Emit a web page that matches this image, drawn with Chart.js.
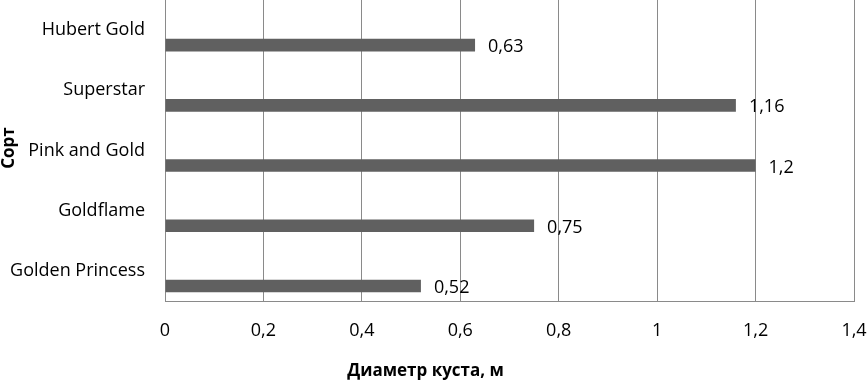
<!DOCTYPE html>
<html>
<head>
<meta charset="utf-8">
<script src="https://cdn.jsdelivr.net/npm/chart.js@4/dist/chart.umd.min.js"></script>
<style>
  body { margin: 0; background: #fff; }
  #wrap { width: 867px; height: 382px; position: relative; }
</style>
</head>
<body>
<div id="wrap"><canvas id="chart_sorts"></canvas></div>
<script>
const sorts = ["Hubert Gold", "Superstar", "Pink and Gold", "Goldflame", "Golden Princess"]
const diameters = [0.63, 1.16, 1.2, 0.75, 0.52]
const emptySeries = [null, null, null, null, null]
const xTicks = [0, 0.2, 0.4, 0.6, 0.8, 1, 1.2, 1.4]

const xTitle = "Диаметр куста, м"
const yTitle = "Сорт"

const fontName = "'Open Sans', sans-serif"
const gridColor = "#8a8a8a"
const barColor = "#606060"

const commaNum = v => String(v).replace(".", ",")

// value labels to the right of every bar + axis titles
const labelsPlugin = {
  id: "labelsPlugin",
  afterDatasetsDraw(chart) {
    const ctx = chart.ctx
    const meta = chart.getDatasetMeta(1)
    ctx.save()
    ctx.fillStyle = "#000"
    ctx.font = "18px " + fontName
    ctx.textAlign = "left"
    ctx.textBaseline = "middle"
    meta.data.forEach((bar, i) => {
      ctx.fillText(commaNum(diameters[i]), bar.x + 13, bar.y + 2)
    })

    ctx.font = "bold 17px " + fontName
    ctx.textAlign = "center"
    ctx.fillText(xTitle, chart.width / 2 - 8, 371)

    ctx.translate(9, 148)
    ctx.rotate(-Math.PI / 2)
    ctx.fillText(yTitle, 0, 0)
    ctx.restore()
  }
}

new Chart(document.getElementById("chart_sorts").getContext("2d"), {
  type: "bar",
  data: {
    labels: sorts,
    datasets: [
      { data: emptySeries, backgroundColor: barColor, barPercentage: 0.42, categoryPercentage: 1 },
      { data: diameters, backgroundColor: barColor, barPercentage: 0.42, categoryPercentage: 1 }
    ]
  },
  options: {
    indexAxis: "y",
    responsive: true,
    maintainAspectRatio: false,
    animation: false,
    layout: { padding: { top: 0, right: 13, bottom: 0, left: 0 } },
    plugins: { legend: { display: false }, tooltip: { enabled: false } },
    scales: {
      x: {
        min: 0,
        max: 1.4,
        afterBuildTicks: scale => { scale.ticks = xTicks.map(v => ({ value: v })) },
        afterFit: scale => {
          scale.height = 81
          scale.paddingLeft = 0
          scale.paddingRight = 0
        },
        grid: { color: gridColor, lineWidth: 1, drawTicks: false },
        border: { color: gridColor, width: 1 },
        ticks: {
          color: "#000",
          font: { family: fontName, size: 18 },
          padding: 19,
          maxRotation: 0,
          callback: v => commaNum(v)
        }
      },
      y: {
        afterFit: scale => {
          scale.width = 165
          scale.paddingTop = 0
          scale.paddingBottom = 0
        },
        grid: { display: false, drawTicks: false },
        border: { color: gridColor, width: 1 },
        ticks: {
          color: "#000",
          font: { family: fontName, size: 18 },
          padding: 20
        }
      }
    }
  },
  plugins: [labelsPlugin]
})
</script>
</body>
</html>
